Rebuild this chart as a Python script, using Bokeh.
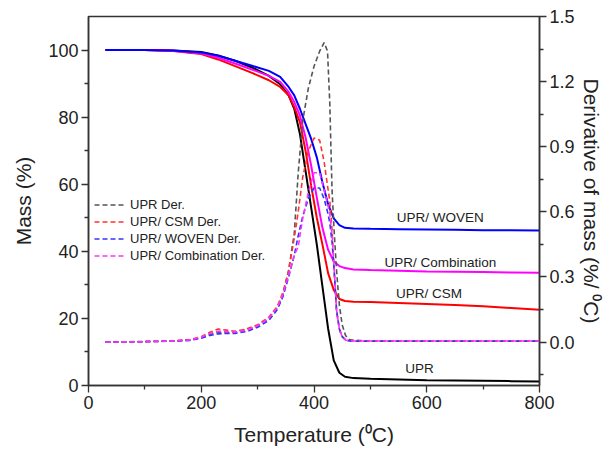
from bokeh.plotting import figure
from bokeh.models import Range1d, LinearAxis, FixedTicker, Legend, LegendItem, Label, CustomJSTickFormatter
from bokeh.embed import file_html
from bokeh.resources import INLINE

# ---- data ----
T_mass = [30, 100, 150, 200, 230, 260, 290, 320, 340, 355, 365, 375, 385, 395, 405,
          415, 425, 435, 445, 455, 470, 500, 550, 600, 650, 700, 750, 800]
mass_upr = [100, 100, 99.9, 99.4, 98.4, 96.8, 94.8, 92.3, 89.8, 86.5, 82.5, 75, 64, 53, 42,
            29.5, 17, 7.5, 3.8, 2.6, 2.2, 2.0, 1.8, 1.6, 1.5, 1.4, 1.3, 1.2]
mass_csm = [100, 100, 99.7, 98.8, 97.2, 95.2, 93.2, 91, 89, 86.5, 83, 78.5, 70, 59.5, 50,
            42, 33.5, 28.5, 25.8, 25.2, 25.0, 24.9, 24.6, 24.3, 24.0, 23.6, 23.1, 22.6]
mass_woven = [100, 100, 99.9, 99.3, 98.3, 96.8, 95.3, 93.8, 92, 89, 86.5, 82.5, 78, 73.5, 68,
              60.5, 54, 49.8, 47.8, 47, 46.8, 46.7, 46.6, 46.5, 46.4, 46.3, 46.3, 46.2]
mass_comb = [100, 100, 99.8, 99.0, 97.7, 96.0, 94.2, 92.3, 90.5, 87.5, 84.5, 80.5, 74, 65.5, 56,
             47, 40.5, 37, 35.6, 35.0, 34.6, 34.4, 34.2, 34.0, 33.9, 33.8, 33.7, 33.6]

T_der = [30, 100, 150, 180, 200, 215, 230, 245, 260, 280, 300, 320, 335, 345, 355, 365, 372,
         380, 390, 400, 410, 418, 424, 428, 432, 436, 440, 445, 450, 456, 462, 470, 500, 550,
         600, 650, 700, 750, 800]
der_upr = [0.0, 0.003, 0.005, 0.01, 0.02, 0.035, 0.045, 0.042, 0.045, 0.055, 0.075, 0.11, 0.16,
           0.22, 0.33, 0.5, 0.78, 1.02, 1.17, 1.27, 1.34, 1.38, 1.34, 1.1, 0.7, 0.5, 0.33, 0.17,
           0.08, 0.03, 0.012, 0.008, 0.005, 0.005, 0.005, 0.005, 0.005, 0.005, 0.005]
der_csm = [0.0, 0.002, 0.005, 0.012, 0.025, 0.045, 0.06, 0.055, 0.05, 0.06, 0.08, 0.115, 0.165,
           0.23, 0.33, 0.48, 0.6, 0.76, 0.88, 0.94, 0.93, 0.83, 0.72, 0.65, 0.52, 0.32, 0.14,
           0.06, 0.025, 0.01, 0.008, 0.007, 0.006, 0.006, 0.006, 0.006, 0.006, 0.006, 0.006]
der_woven = [0.0, 0.002, 0.004, 0.008, 0.018, 0.03, 0.038, 0.04, 0.04, 0.048, 0.068, 0.1, 0.15,
             0.21, 0.3, 0.4, 0.49, 0.58, 0.66, 0.71, 0.71, 0.66, 0.6, 0.55, 0.46, 0.32, 0.15,
             0.06, 0.025, 0.01, 0.005, 0.004, 0.004, 0.004, 0.004, 0.004, 0.004, 0.004, 0.004]
der_comb = [0.0, 0.002, 0.005, 0.01, 0.022, 0.04, 0.05, 0.048, 0.046, 0.055, 0.075, 0.11, 0.16,
            0.22, 0.31, 0.4, 0.44, 0.57, 0.69, 0.78, 0.78, 0.7, 0.64, 0.59, 0.5, 0.33, 0.15,
            0.06, 0.025, 0.01, 0.006, 0.005, 0.005, 0.005, 0.005, 0.005, 0.005, 0.005, 0.005]

legend_labels = ["UPR Der.", "UPR/ CSM Der.", "UPR/ WOVEN Der.", "UPR/ Combination Der."]
curve_labels = ["UPR", "UPR/ CSM", "UPR/ WOVEN", "UPR/ Combination"]

FONT = "Liberation Sans"
AX = "#333333"

p = figure(width=605, height=451, output_backend="svg", toolbar_location=None,
           x_range=Range1d(0, 800), y_range=Range1d(0, 110))
p.min_border_left = 88
p.min_border_right = 64
p.min_border_top = 16
p.min_border_bottom = 66
p.outline_line_color = AX
p.outline_line_width = 1.5
p.grid.visible = False
p.background_fill_color = "white"
p.border_fill_color = "white"

p.extra_y_ranges = {"der": Range1d(-0.2, 1.5)}

# mass curves
p.line(T_mass, mass_upr, line_color="black", line_width=2)
p.line(T_mass, mass_csm, line_color="#ff0000", line_width=2)
p.line(T_mass, mass_comb, line_color="#ff00ff", line_width=2)
p.line(T_mass, mass_woven, line_color="#0000ff", line_width=2)

# derivative curves
r1 = p.line(T_der, der_upr, line_color="#555555", line_width=1.6, line_dash="5 3", y_range_name="der")
r2 = p.line(T_der, der_csm, line_color="#ff3333", line_width=1.6, line_dash="5 3", y_range_name="der")
r3 = p.line(T_der, der_woven, line_color="#3333ff", line_width=1.6, line_dash="5 3", y_range_name="der")
r4 = p.line(T_der, der_comb, line_color="#ff33ff", line_width=1.6, line_dash="5 3", y_range_name="der")

legend = Legend(items=[LegendItem(label=legend_labels[0], renderers=[r1]),
                       LegendItem(label=legend_labels[1], renderers=[r2]),
                       LegendItem(label=legend_labels[2], renderers=[r3]),
                       LegendItem(label=legend_labels[3], renderers=[r4])],
                location=(6, 121))
legend.border_line_color = None
legend.background_fill_alpha = 0
legend.label_text_font = FONT
legend.label_text_font_size = "13px"
legend.label_text_color = "#222222"
legend.glyph_width = 32
legend.glyph_height = 17
legend.label_height = 17
legend.label_standoff = 4
legend.spacing = 0
legend.padding = 2
legend.margin = 0
p.add_layout(legend)

# curve labels
for txt, xx, yy in [(curve_labels[2], 624, 50.1), (curve_labels[3], 624, 36.8),
                    (curve_labels[1], 604, 27.5), (curve_labels[0], 587, 5.1)]:
    p.add_layout(Label(x=xx, y=yy, text=txt, text_font=FONT, text_font_size="13.5px",
                       text_align="center", text_baseline="middle", text_color="#222222"))

def style_axis(ax):
    ax.axis_line_color = AX
    ax.axis_line_width = 1.5
    ax.major_tick_line_color = AX
    ax.minor_tick_line_color = AX
    ax.major_tick_line_width = 1.3
    ax.minor_tick_line_width = 1.3
    ax.major_tick_out = 7
    ax.major_tick_in = 0
    ax.minor_tick_out = 4
    ax.minor_tick_in = 0
    ax.major_label_text_font = FONT
    ax.major_label_text_font_size = "18px"
    ax.major_label_text_color = "#222222"
    ax.major_label_standoff = 3
    ax.axis_label_text_font = FONT
    ax.axis_label_text_font_size = "21px"
    ax.axis_label_text_font_style = "normal"
    ax.axis_label_text_color = "#222222"

xa = p.xaxis[0]
xa.ticker = FixedTicker(ticks=[0, 200, 400, 600, 800], minor_ticks=[100, 300, 500, 700])
xa.axis_label = "Temperature (\u2070C)"
style_axis(xa)
xa.axis_label_standoff = 11

ya = p.yaxis[0]
ya.ticker = FixedTicker(ticks=[0, 20, 40, 60, 80, 100], minor_ticks=[10, 30, 50, 70, 90])
ya.axis_label = "Mass (%)"
style_axis(ya)
ya.axis_label_standoff = 10

ra = LinearAxis(y_range_name="der", axis_label="Derivative of mass (%/ \u2070C)")
ra.ticker = FixedTicker(ticks=[0.0, 0.3, 0.6, 0.9, 1.2, 1.5],
                        minor_ticks=[-0.15, 0.15, 0.45, 0.75, 1.05, 1.35])
ra.formatter = CustomJSTickFormatter(code="return tick.toFixed(1);")
style_axis(ra)
ra.axis_label_standoff = 2
p.add_layout(ra, "right")

open("out.html", "w").write(file_html(p, INLINE))
